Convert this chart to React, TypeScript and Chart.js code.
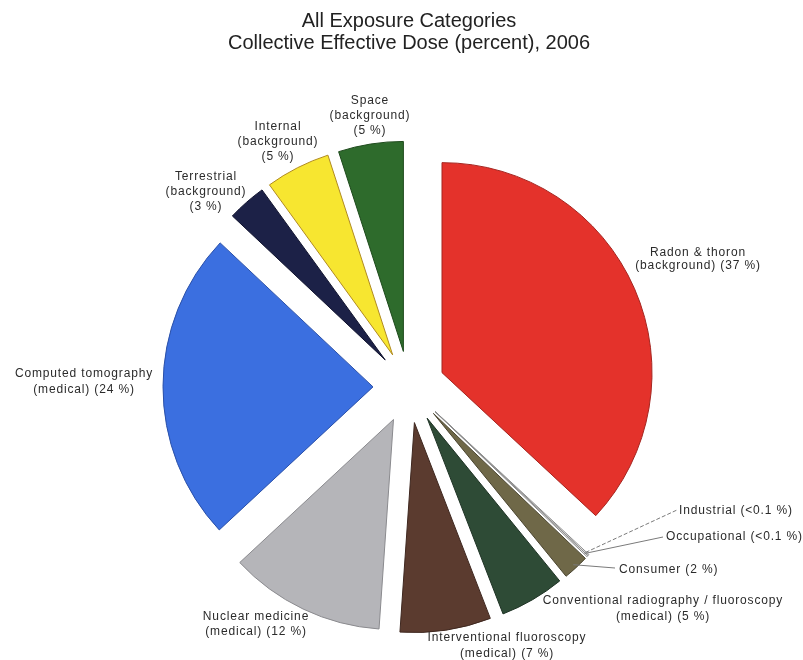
import React, { useEffect, useRef } from 'react';
import { Chart, registerables } from 'chart.js';

Chart.register(...registerables);

// ---- data ----
const titleLines = ['All Exposure Categories', 'Collective Effective Dose (percent), 2006'];

const categories = [
  'Radon & thoron',
  'Industrial',
  'Occupational',
  'Consumer',
  'Conventional radiography / fluoroscopy',
  'Interventional fluoroscopy',
  'Nuclear medicine',
  'Computed tomography',
  'Terrestrial',
  'Internal',
  'Space',
];

const values = [37, 0.1, 0.1, 2, 5, 7, 12, 24, 3, 5, 5];

const valueTexts = ['37 %', '<0.1 %', '<0.1 %', '2 %', '5 %', '7 %', '12 %', '24 %', '3 %', '5 %', '5 %'];

const groups = ['background', '', '', '', 'medical', 'medical', 'medical', 'medical', 'background', 'background', 'background'];

const colors = ['#e4322b', '#ffffff', '#ffffff', '#6f6848', '#2e4b36', '#5b3b2f', '#b5b5b9', '#3b6fe0', '#1c2147', '#f7e630', '#2e6b2c'];
const borderColors = ['#a52520', '#8a8a8a', '#8a8a8a', '#4a4530', '#1f3325', '#3e271f', '#8a8a8e', '#2a50a8', '#10132e', '#b08a20', '#1e4a1c'];

// label layout (relative to pie centre): [dx, dy, align, lineGap, lines-style]
type LabelCfg = { dx: number; dy: number; align: CanvasTextAlign; gap: number; style: 'two' | 'three' | 'one'; leaderTo?: [number, number]; dashed?: boolean };
const labelCfg: LabelCfg[] = [
  { dx: 289, dy: -134, align: 'center', gap: 13, style: 'two' },
  { dx: 270, dy: 124, align: 'left', gap: 0, style: 'one', leaderTo: [268, 123], dashed: true },
  { dx: 257, dy: 150, align: 'left', gap: 0, style: 'one', leaderTo: [254, 150] },
  { dx: 210, dy: 183, align: 'left', gap: 0, style: 'one', leaderTo: [206, 181] },
  { dx: 254, dy: 214, align: 'center', gap: 16, style: 'two' },
  { dx: 98, dy: 251, align: 'center', gap: 16, style: 'two' },
  { dx: -153, dy: 230, align: 'center', gap: 15, style: 'two' },
  { dx: -325, dy: -13, align: 'center', gap: 16, style: 'two' },
  { dx: -203, dy: -210, align: 'center', gap: 15, style: 'three' },
  { dx: -131, dy: -260, align: 'center', gap: 15, style: 'three' },
  { dx: -39, dy: -286, align: 'center', gap: 15, style: 'three' },
];

function labelLines(i: number): string[] {
  const c = labelCfg[i];
  const g = groups[i];
  const v = `(${valueTexts[i]})`;
  if (c.style === 'one') return [`${categories[i]} ${v}`];
  if (c.style === 'three') return [categories[i], `(${g})`, v];
  return [categories[i], `(${g}) ${v}`];
}

const EXPLODE = 36;

const explodePlugin = {
  id: 'explodeSlices',
  afterDatasetUpdate(chart: any, args: any) {
    const meta = chart.getDatasetMeta(args.index);
    meta.data.forEach((arc: any) => {
      const mid = (arc.startAngle + arc.endAngle) / 2;
      arc.x += Math.cos(mid) * EXPLODE;
      arc.y += Math.sin(mid) * EXPLODE;
    });
  },
};

const labelPlugin = {
  id: 'sliceLabels',
  afterDraw(chart: any) {
    const ctx: CanvasRenderingContext2D = chart.ctx;
    const area = chart.chartArea;
    const cx = (area.left + area.right) / 2;
    const cy = (area.top + area.bottom) / 2;
    const meta = chart.getDatasetMeta(0);
    ctx.save();
    ctx.font = '12px "Liberation Sans", Arial, sans-serif';
    (ctx as any).letterSpacing = '0.85px';
    ctx.fillStyle = '#2b2b2b';
    ctx.textBaseline = 'middle';
    labelCfg.forEach((c, i) => {
      const lines = labelLines(i);
      ctx.textAlign = c.align;
      lines.forEach((t, k) => {
        ctx.fillText(t, cx + c.dx, cy + c.dy + k * c.gap);
      });
      if (c.leaderTo) {
        const arc: any = meta.data[i];
        const mid = (arc.startAngle + arc.endAngle) / 2;
        const r = arc.outerRadius - 4;
        const sx = arc.x + Math.cos(mid) * r;
        const sy = arc.y + Math.sin(mid) * r;
        ctx.beginPath();
        ctx.strokeStyle = '#7a7a7a';
        ctx.lineWidth = 1;
        ctx.setLineDash(c.dashed ? [4, 2] : []);
        ctx.moveTo(sx, sy);
        ctx.lineTo(cx + c.leaderTo[0], cy + c.leaderTo[1]);
        ctx.stroke();
      }
    });
    ctx.restore();
  },
};

export default function App() {
  const ref = useRef<HTMLCanvasElement | null>(null);
  useEffect(() => {
    if (!ref.current) return;
    const chart = new Chart(ref.current, {
      type: 'pie',
      data: {
        labels: categories,
        datasets: [
          {
            data: values,
            backgroundColor: colors,
            borderColor: borderColors,
            borderWidth: 1,
          },
        ],
      },
      options: {
        responsive: false,
        animation: false,
        events: [],
        radius: 210,
        layout: { padding: { left: 15, right: 0, top: 0, bottom: 0 } },
        plugins: {
          legend: { display: false },
          tooltip: { enabled: false },
          title: {
            display: true,
            text: titleLines,
            color: '#222222',
            font: { family: '"Liberation Sans", Arial, sans-serif', size: 20, weight: 'normal', lineHeight: 1.1 },
            padding: { top: 10, bottom: 60 },
          },
        },
      } as any,
      plugins: [explodePlugin, labelPlugin],
    });
    return () => chart.destroy();
  }, []);
  return (
    <div style={{ position: 'fixed', left: 0, top: 0, width: 803, height: 660, background: '#ffffff' }}>
      <canvas ref={ref} width={803} height={660} style={{ width: 803, height: 660, display: 'block' }} />
    </div>
  );
}
